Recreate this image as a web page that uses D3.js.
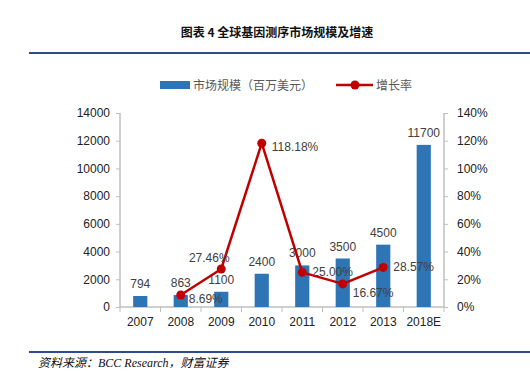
<!DOCTYPE html>
<html>
<head>
<meta charset="utf-8">
<script src="https://cdn.jsdelivr.net/npm/d3@7"></script>
<style>
  body { margin: 0; background: #fff; }
  svg { display: block; }
  text { font-family: "Liberation Sans", Arial, "Noto Sans CJK SC", sans-serif; }
</style>
</head>
<body>
<div id="chart"></div>
<script>
// data
var years = ["2007", "2008", "2009", "2010", "2011", "2012", "2013", "2018E"];
var marketSize = [794, 863, 1100, 2400, 3000, 3500, 4500, 11700];
var growthYears = ["2008", "2009", "2010", "2011", "2012", "2013"];
var growthRate = [8.69, 27.46, 118.18, 25.00, 16.67, 28.57];
var leftTicks = [0, 2000, 4000, 6000, 8000, 10000, 12000, 14000];
var rightTicks = [0, 20, 40, 60, 80, 100, 120, 140];
// label offsets for the rate labels [dx, dy] (relative to point)
var rateLabelPos = [[8, 4], [-12, -11], [10, 4], [10, 0], [10, 9], [10, 0]];

var W = 530, H = 372;
var margin = {top: 113, left: 120, right: 86, bottom: 65};
var width = W - margin.left - margin.right,
    height = H - margin.top - margin.bottom;

var barColor = "#2E75B6", lineColor = "#C00000", axisColor = "#BFBFBF", textColor = "#404040";

var svg = d3.select("#chart").append("svg")
    .attr("width", W)
    .attr("height", H);

// title + rules
svg.append("text")
    .attr("x", 277).attr("y", 37)
    .attr("text-anchor", "middle")
    .style("font-family", "'Noto Sans CJK SC', sans-serif")
    .style("font-size", "12px")
    .style("font-weight", "bold")
    .attr("fill", "#111")
    .text("图表  4 全球基因测序市场规模及增速");

svg.append("line")
    .attr("x1", 29).attr("x2", 530).attr("y1", 53).attr("y2", 53)
    .attr("stroke", "#2F4B8C").attr("stroke-width", 2);

svg.append("line")
    .attr("x1", 29).attr("x2", 530).attr("y1", 352).attr("y2", 352)
    .attr("stroke", "#2F4B8C").attr("stroke-width", 2);

svg.append("text")
    .attr("x", 38).attr("y", 367)
    .style("font-family", "'Liberation Serif', 'Noto Sans CJK SC', serif")
    .style("font-style", "italic")
    .style("font-size", "12px")
    .attr("fill", "#111")
    .text("资料来源：BCC Research，财富证券");

// legend
var legend = svg.append("g").attr("transform", "translate(0,85)");
legend.append("rect")
    .attr("x", 160).attr("y", -4).attr("width", 30).attr("height", 8)
    .attr("fill", barColor);
legend.append("text")
    .attr("x", 193).attr("y", 4.5)
    .style("font-size", "12px")
    .style("font-family", "'Noto Sans CJK SC', sans-serif")
    .attr("fill", "#595959")
    .text("市场规模（百万美元）");
legend.append("line")
    .attr("x1", 336).attr("x2", 373).attr("y1", 0).attr("y2", 0)
    .attr("stroke", lineColor).attr("stroke-width", 2.5);
legend.append("circle")
    .attr("cx", 355).attr("cy", 0).attr("r", 4.5)
    .attr("fill", lineColor);
legend.append("text")
    .attr("x", 376).attr("y", 4.5)
    .style("font-size", "12px")
    .style("font-family", "'Noto Sans CJK SC', sans-serif")
    .attr("fill", "#595959")
    .text("增长率");

var g = svg.append("g")
    .attr("transform", "translate(" + margin.left + "," + margin.top + ")");

// scales
var x = d3.scaleBand().domain(years).range([0, width]).paddingInner(0.65).paddingOuter(0.325);
var xc = d3.scaleBand().domain(years).range([0, width]);
var y = d3.scaleLinear().domain([0, 14000]).range([height, 0]);
var y2 = d3.scaleLinear().domain([0, 140]).range([height, 0]);

// axes
var yAxis = g.append("g")
    .call(d3.axisLeft(y).tickValues(leftTicks).tickSize(4).tickPadding(6)
        .tickFormat(d3.format("d")));
var y2Axis = g.append("g")
    .attr("transform", "translate(" + width + ",0)")
    .call(d3.axisRight(y2).tickValues(rightTicks).tickSize(4).tickPadding(9)
        .tickFormat(function(d) { return d + "%"; }));
var xAxis = g.append("g")
    .attr("transform", "translate(0," + height + ")")
    .call(d3.axisBottom(xc).tickSize(0).tickPadding(10));

// band boundary ticks on x axis
xAxis.selectAll(".bound")
    .data(d3.range(years.length + 1))
    .enter().append("line")
    .attr("x1", function(i) { return i * xc.bandwidth(); })
    .attr("x2", function(i) { return i * xc.bandwidth(); })
    .attr("y1", 0).attr("y2", 5)
    .attr("stroke", axisColor);

[yAxis, y2Axis, xAxis].forEach(function(a) {
  a.select(".domain").attr("stroke", axisColor).attr("stroke-width", 1.5);
  a.selectAll(".tick line").attr("stroke", axisColor);
  a.selectAll("text")
    .style("font-size", "12px")
    .attr("fill", "#222");
});
xAxis.selectAll(".domain").attr("d", "M0,0H" + width);
yAxis.select(".domain").attr("d", "M0,0V" + height);
y2Axis.select(".domain").attr("d", "M0,0V" + height);

// bars
g.selectAll(".bar")
    .data(marketSize)
    .enter().append("rect")
    .attr("class", "bar")
    .attr("x", function(d, i) { return x(years[i]); })
    .attr("width", x.bandwidth())
    .attr("y", function(d) { return y(d); })
    .attr("height", function(d) { return height - y(d); })
    .attr("fill", barColor);

g.selectAll(".barLabel")
    .data(marketSize)
    .enter().append("text")
    .attr("class", "barLabel")
    .attr("x", function(d, i) { return xc(years[i]) + xc.bandwidth() / 2; })
    .attr("y", function(d) { return y(d) - 8; })
    .attr("text-anchor", "middle")
    .style("font-size", "12px")
    .attr("fill", textColor)
    .text(function(d) { return d; });

// line
var rate = growthRate.map(function(v, i) { return {year: growthYears[i], v: v}; });
var line = d3.line()
    .x(function(d) { return xc(d.year) + xc.bandwidth() / 2; })
    .y(function(d) { return y2(d.v); });

g.append("path")
    .datum(rate)
    .attr("d", line)
    .attr("fill", "none")
    .attr("stroke", lineColor)
    .attr("stroke-width", 2.5)
    .attr("stroke-linejoin", "round");

g.selectAll(".pt")
    .data(rate)
    .enter().append("circle")
    .attr("cx", function(d) { return xc(d.year) + xc.bandwidth() / 2; })
    .attr("cy", function(d) { return y2(d.v); })
    .attr("r", 4.5)
    .attr("fill", lineColor);

g.selectAll(".rateLabel")
    .data(rate)
    .enter().append("text")
    .attr("x", function(d, i) { return xc(d.year) + xc.bandwidth() / 2 + rateLabelPos[i][0]; })
    .attr("y", function(d, i) { return y2(d.v) + rateLabelPos[i][1] + 4; })
    .attr("text-anchor", function(d, i) { return rateLabelPos[i][0] < 0 ? "middle" : "start"; })
    .style("font-size", "12px")
    .attr("fill", textColor)
    .text(function(d) { return d.v.toFixed(2) + "%"; });
</script>
</body>
</html>
